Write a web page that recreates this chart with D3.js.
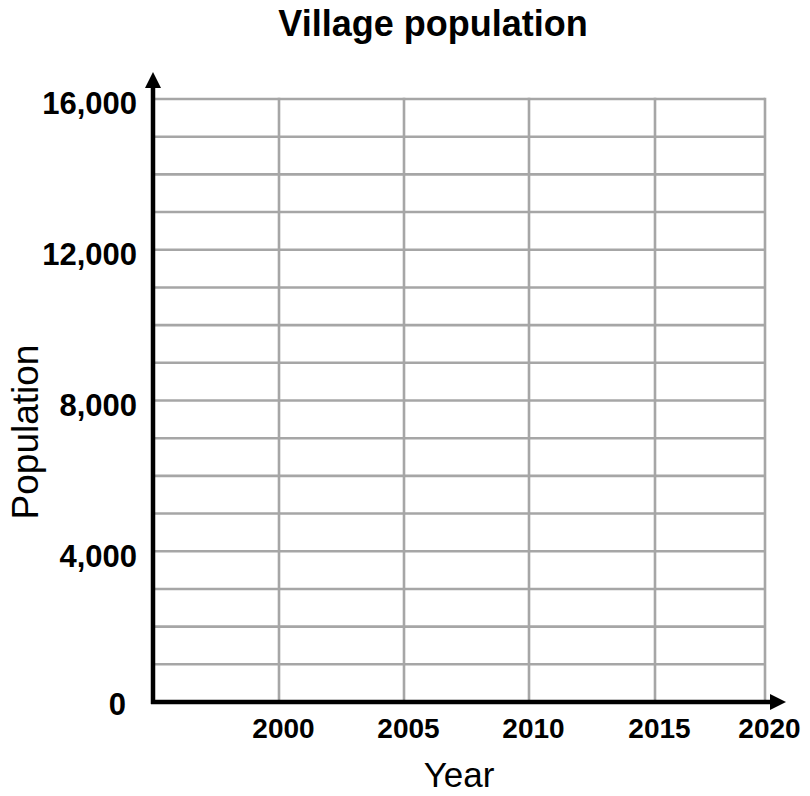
<!DOCTYPE html>
<html>
<head>
<meta charset="utf-8">
<script src="https://cdn.jsdelivr.net/npm/d3@7"></script>
<style>
  body { margin: 0; background: #fff; }
  svg { font-family: "Liberation Sans", Arial, sans-serif; }
</style>
</head>
<body>
<svg width="810" height="796"></svg>
<script>
// grid positions (years) and population ticks
const yearGrid = [1995, 2000, 2005, 2010, 2015, 2020];
const yearLabels = [2000, 2005, 2010, 2015, 2020];
const popGrid = d3.range(1000, 16001, 1000);
const popLabels = [0, 4000, 8000, 12000, 16000];

const svg = d3.select('svg');

// the worksheet grid is slightly narrower in its last column
const xScale = d3.scaleLinear()
    .domain(yearGrid)
    .range([153, 279, 404, 529, 655, 765]);
const yScale = d3.scaleLinear()
    .domain([0, 16000])
    .range([702, 99]);

const grid = svg.append('g').attr('class', 'grid');
grid.selectAll('line.h')
    .data(popGrid)
    .enter().append('line')
    .attr('class', 'h')
    .attr('x1', xScale(1995))
    .attr('x2', xScale(2020))
    .attr('y1', d => yScale(d))
    .attr('y2', d => yScale(d))
    .attr('stroke', '#a6a6a6')
    .attr('stroke-width', 2.6);
grid.selectAll('line.v')
    .data(yearLabels)
    .enter().append('line')
    .attr('class', 'v')
    .attr('x1', d => xScale(d))
    .attr('x2', d => xScale(d))
    .attr('y1', yScale(16000) - 1.3)
    .attr('y2', yScale(0))
    .attr('stroke', '#a6a6a6')
    .attr('stroke-width', 2.6);

// axes with arrow heads
svg.append('defs').append('marker')
    .attr('id', 'arrow')
    .attr('viewBox', '0 0 10 10')
    .attr('refX', 0)
    .attr('refY', 5)
    .attr('markerWidth', 16)
    .attr('markerHeight', 16)
    .attr('markerUnits', 'userSpaceOnUse')
    .attr('orient', 'auto')
    .append('path')
    .attr('d', 'M0,0 L10,5 L0,10 Z')
    .attr('fill', '#000');

svg.append('line')
    .attr('x1', xScale(1995) - 2)
    .attr('x2', 770)
    .attr('y1', yScale(0))
    .attr('y2', yScale(0))
    .attr('stroke', '#000')
    .attr('stroke-width', 4.5)
    .attr('marker-end', 'url(#arrow)');
svg.append('line')
    .attr('x1', xScale(1995))
    .attr('x2', xScale(1995))
    .attr('y1', yScale(0) + 2)
    .attr('y2', 88)
    .attr('stroke', '#000')
    .attr('stroke-width', 4.5)
    .attr('marker-end', 'url(#arrow)');

// tick labels
const yAxis = d3.axisLeft(yScale)
    .tickValues(popLabels)
    .tickSize(0)
    .tickPadding(16)
    .tickFormat(d3.format(','));
const yAxisG = svg.append('g')
    .attr('id', 'yAxisG')
    .attr('transform', `translate(${xScale(1995)}, 5)`)
    .call(yAxis);
yAxisG.select('.domain').remove();
yAxisG.selectAll('text')
    .attr('font-size', 31)
    .attr('font-weight', 'bold')
    .attr('fill', '#000')
    .attr('font-family', '"Liberation Sans", Arial, sans-serif')
    .attr('dx', d => d === 0 ? -11 : 0)
    .attr('dy', d => d === 0 ? '0.25em' : '0.32em');

const xAxis = d3.axisBottom(xScale)
    .tickValues(yearLabels)
    .tickSize(0)
    .tickPadding(16)
    .tickFormat(d3.format('d'));
const xAxisG = svg.append('g')
    .attr('id', 'xAxisG')
    .attr('transform', `translate(4, ${yScale(0)})`)
    .call(xAxis);
xAxisG.select('.domain').remove();
xAxisG.selectAll('text')
    .attr('font-size', 28)
    .attr('font-weight', 'bold')
    .attr('fill', '#000')
    .attr('font-family', '"Liberation Sans", Arial, sans-serif');

// titles
svg.append('text')
    .attr('x', 433)
    .attr('y', 36)
    .attr('text-anchor', 'middle')
    .attr('font-size', 36)
    .attr('font-weight', 'bold')
    .text('Village population');

svg.append('text')
    .attr('x', 459)
    .attr('y', 787)
    .attr('text-anchor', 'middle')
    .attr('font-size', 35)
    .text('Year');

svg.append('text')
    .attr('transform', 'translate(38, 432) rotate(-90)')
    .attr('text-anchor', 'middle')
    .attr('font-size', 37)
    .text('Population');
</script>
</body>
</html>
